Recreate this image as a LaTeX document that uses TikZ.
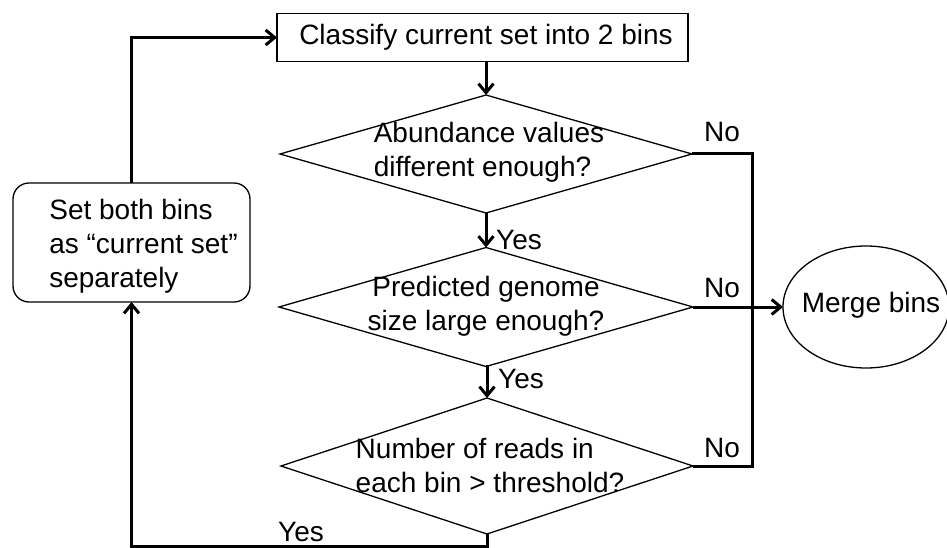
\documentclass[tikz,border=0pt]{standalone}
\usepackage{fontspec}
\setmainfont{Liberation Sans}
\usetikzlibrary{shapes.geometric,arrows.meta}
\begin{document}
\begin{tikzpicture}[x=1pt,y=-1pt,
  every node/.style={font=\fontsize{28}{34}\selectfont, outer sep=0pt},
  shapeline/.style={draw=black, line width=1.3pt},
  dia/.style={shapeline, diamond, inner sep=0pt},
  wire/.style={line width=3pt},
  conn/.style={wire, -{Straight Barb[length=9pt,width=15pt]}}]
\useasboundingbox (0,0) rectangle (947,548);
% nodes
\node[shapeline, minimum width=411pt, minimum height=48pt, inner sep=0pt] (cls) at (482.5,37.5) {\hspace*{7pt}Classify current set into 2 bins};
\node[shapeline, rounded corners=16pt, minimum width=237pt, minimum height=119pt] (setb) at (131.5,242.5) {};
\node[align=left, anchor=west] (setbt) at (46,246) {Set both bins\\as “current set”\\separately};
\node[dia, minimum width=412pt, minimum height=118pt] (d1) at (486,154) {};
\node[dia, minimum width=414pt, minimum height=119pt] (d2) at (486,307) {};
\node[dia, minimum width=412pt, minimum height=136pt] (d3) at (487,466) {};
\node[align=left] (d1t) at (489,152) {Abundance values\\different enough?};
\node[align=center] (d2t) at (486,306) {Predicted genome\\size large enough?};
\node[align=left] (d3t) at (490,465) {Number of reads in\\each bin > threshold?};
\node[shapeline, ellipse, minimum width=166pt, minimum height=122pt, inner sep=0pt] (mrg) at (866,307) {};
\node (mrgt) at (871,305) {Merge bins};
% labels
\node (no1) at (722,132) {No};
\node (no2) at (722,288) {No};
\node (no3) at (722,448) {No};
\node (yes1) at (519,240) {Yes};
\node (yes2) at (521,379) {Yes};
\node (yes3) at (301,532) {Yes};
% helper coordinates
\coordinate (jn) at (752,0);
\coordinate (bot) at (0,546.5);
% connectors
\draw[conn] (setb.north) -- (setb.north |- cls.west) -- (cls.west);
\draw[conn] (d1.north |- cls.south) -- (d1.north);
\draw[conn] (d1.south) -- (d2.north);
\draw[conn] (d2.south) -- (d2.south -| d3.north) -- (d3.north);
\draw[wire] (d1.east) -- (d1.east -| jn) -- (d3.east -| jn) -- (d3.east);
\draw[conn] (d2.east) -- (mrg.west);
\draw[conn] (d3.south) -- (d3.south |- bot) -- (setb.south |- bot) -- (setb.south);
\end{tikzpicture}
\end{document}
